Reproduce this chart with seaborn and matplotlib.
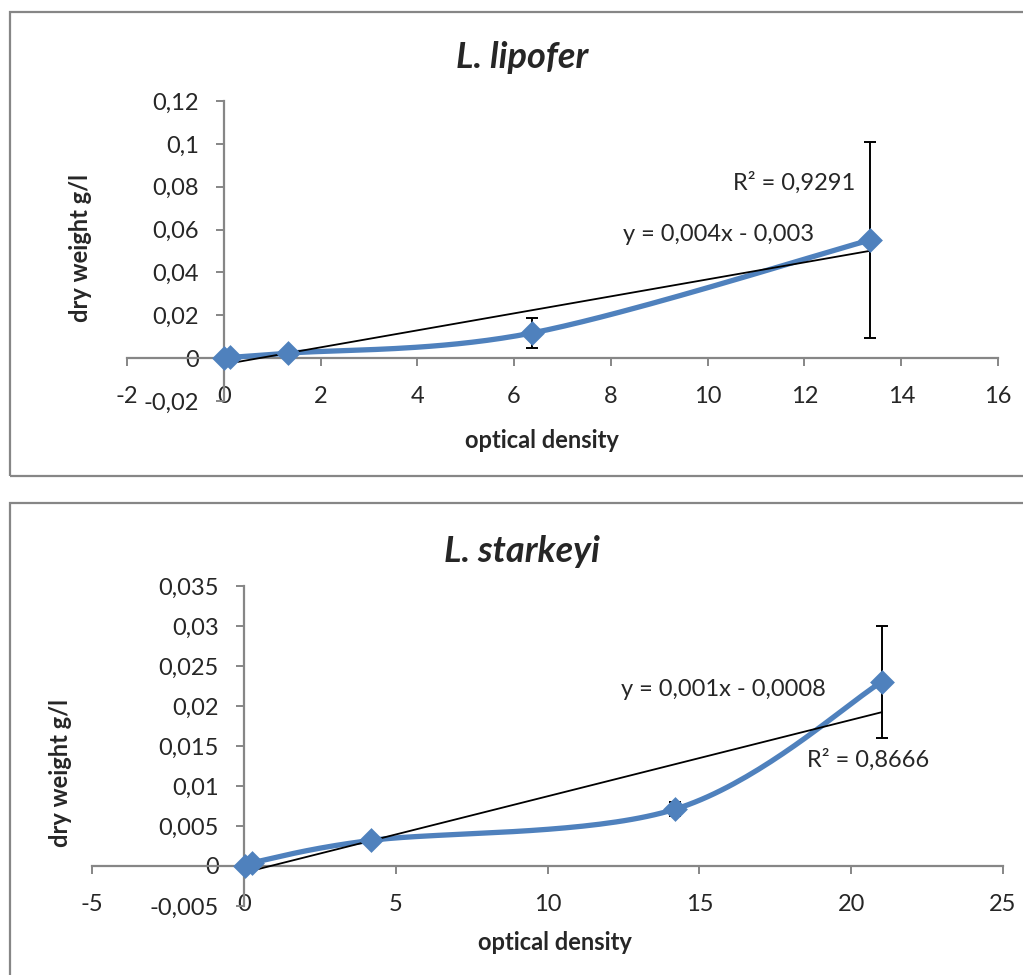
import numpy as np
import pandas as pd
import matplotlib
matplotlib.use("Agg")
import matplotlib.pyplot as plt
import seaborn as sns
from matplotlib.patches import Rectangle
from matplotlib.ticker import FuncFormatter, MultipleLocator

# ---- data ----
lip_od = [0.0, 0.12, 1.32, 6.36, 13.35]
lip_dw = [0.0, 0.0003, 0.0023, 0.0117, 0.0551]
lip_err = [0.0, 0.0, 0.0, 0.007, 0.0458]

sta_od = [0.03, 0.26, 4.18, 14.2, 21.0]
sta_dw = [0.0, 0.0004, 0.0032, 0.0071, 0.0230]
sta_err = [0.0, 0.0, 0.0, 0.0009, 0.007]

titles = ["L. lipofer", "L. starkeyi"]
eq_texts = ["y = 0,004x - 0,003", "y = 0,001x - 0,0008"]
r2_texts = ["R² = 0,9291", "R² = 0,8666"]

BLUE = "#4F81BD"
GRAY = "#868686"
FONT = "Lato"
TS = 17  # text size

sns.set_theme(style="white")
plt.rcParams['font.family'] = [FONT, 'DejaVu Sans']

fig = plt.figure(figsize=(10.23, 9.75), dpi=100)

# panel frames
for (y0, y1) in [(12, 476), (503, 990)]:
    fig.patches.append(Rectangle((10 / 1023, 1 - y1 / 975), 1.1, (y1 - y0) / 975,
                                 transform=fig.transFigure, fill=False,
                                 edgecolor=GRAY, linewidth=1.6, clip_on=True))


def smooth(xs, ys, xr, yr, n=40):
    P = np.column_stack([np.array(xs) / xr, np.array(ys) / yr])
    out = []
    m = len(P)
    for i in range(m - 1):
        p0 = P[max(i - 1, 0)]
        p1 = P[i]
        p2 = P[i + 1]
        p3 = P[min(i + 2, m - 1)]
        seg = np.linalg.norm(p2 - p1)
        t1 = (p2 - p0) / 6.0
        t2 = (p3 - p1) / 6.0
        n1 = np.linalg.norm(t1)
        n2 = np.linalg.norm(t2)
        if n1 > seg / 2 and n1 > 0:
            t1 = t1 * (seg / 2) / n1
        if n2 > seg / 2 and n2 > 0:
            t2 = t2 * (seg / 2) / n2
        c1 = p1 + t1
        c2 = p2 - t2
        t = np.linspace(0, 1, n)[:, None]
        b = ((1 - t) ** 3) * p1 + 3 * ((1 - t) ** 2) * t * c1 + 3 * (1 - t) * t ** 2 * c2 + t ** 3 * p2
        out.append(b if i == 0 else b[1:])
    B = np.vstack(out)
    return B[:, 0] * xr, B[:, 1] * yr


def comma(dec):
    def f(v, pos):
        s = f"{v:.{dec}f}".rstrip("0").rstrip(".") if dec > 0 else f"{v:.0f}"
        if s in ("-0", ""):
            s = "0"
        return s.replace(".", ",")
    return f


panels = [
    dict(rect=[127 / 1023, 1 - 401 / 975, (998 - 127) / 1023, 300 / 975],
         x=lip_od, y=lip_dw, e=lip_err, xlim=(-2, 16), ylim=(-0.02, 0.12),
         xstep=2, ystep=0.02, ydec=2,
         eq=(8.24, 0.0575), r2=(10.52, 0.0818)),
    dict(rect=[92 / 1023, 1 - 906 / 975, (1003 - 92) / 1023, 320 / 975],
         x=sta_od, y=sta_dw, e=sta_err, xlim=(-5, 25), ylim=(-0.005, 0.035),
         xstep=5, ystep=0.005, ydec=3,
         eq=(12.41, 0.0221), r2=(18.54, 0.01325)),
]

for k, p in enumerate(panels):
    ax = fig.add_axes(p["rect"])
    ax.set_xlim(*p["xlim"])
    ax.set_ylim(*p["ylim"])
    df = pd.DataFrame({"od": p["x"], "dw": p["y"]})

    # error bars
    xe = [xv for xv, ev in zip(p["x"], p["e"]) if ev > 0]
    ye = [yv for yv, ev in zip(p["y"], p["e"]) if ev > 0]
    ee = [ev for ev in p["e"] if ev > 0]
    ax.errorbar(xe, ye, yerr=ee, fmt="none", ecolor="black", elinewidth=1.4,
                capsize=4, capthick=1.4, zorder=2)

    # linear trend
    slope, icpt = np.polyfit(p["x"], p["y"], 1)
    tx = np.array([min(p["x"]), max(p["x"])])
    sns.lineplot(x=tx, y=slope * tx + icpt, ax=ax, color="black", linewidth=1.3,
                 zorder=4, sort=False)

    # smoothed series
    xr = p["xlim"][1] - p["xlim"][0]
    yr = p["ylim"][1] - p["ylim"][0]
    sx, sy = smooth(p["x"], p["y"], xr, yr)
    sns.lineplot(x=sx, y=sy, ax=ax, color=BLUE, linewidth=3.8, sort=False,
                 zorder=3, estimator=None)
    sns.scatterplot(data=df, x="od", y="dw", ax=ax, marker="D", s=160,
                    color=BLUE, edgecolor=BLUE, linewidth=0, zorder=5)

    # spines
    for s in ("top", "right"):
        ax.spines[s].set_visible(False)
    ax.spines["left"].set_position(("data", 0))
    ax.spines["bottom"].set_position(("data", 0))
    for s in ("left", "bottom"):
        ax.spines[s].set_color(GRAY)
        ax.spines[s].set_linewidth(1.6)
    ax.xaxis.set_major_locator(MultipleLocator(p["xstep"]))
    ax.yaxis.set_major_locator(MultipleLocator(p["ystep"]))
    ax.xaxis.set_major_formatter(FuncFormatter(comma(0)))
    ax.yaxis.set_major_formatter(FuncFormatter(comma(p["ydec"])))
    ax.tick_params(axis="x", direction="out", length=6, width=1.4, color=GRAY,
                   labelsize=TS, pad=14, bottom=True)
    ax.tick_params(axis="y", direction="out", length=6, width=1.4, color=GRAY,
                   labelsize=TS, pad=12, left=True)
    ax.set_xlabel("")
    ax.set_ylabel("")
    ax.grid(False)
    ax.patch.set_alpha(0)

    ax.text(p["eq"][0], p["eq"][1], eq_texts[k], fontsize=TS, va="center", ha="left")
    ax.text(p["r2"][0], p["r2"][1], r2_texts[k], fontsize=TS, va="center", ha="left")

# titles and axis labels (figure coords)
fig.text(522 / 1023, 1 - 58 / 975, titles[0], fontsize=26, fontweight="bold",
         fontstyle="italic", ha="center", va="center")
fig.text(522 / 1023, 1 - 552 / 975, titles[1], fontsize=26, fontweight="bold",
         fontstyle="italic", ha="center", va="center")
fig.text(542 / 1023, 1 - 441 / 975, "optical density", fontsize=TS, fontweight="bold",
         ha="center", va="center")
fig.text(555 / 1023, 1 - 942 / 975, "optical density", fontsize=TS, fontweight="bold",
         ha="center", va="center")
fig.text(80 / 1023, 1 - 248 / 975, "dry weight g/l", fontsize=TS, fontweight="bold",
         ha="center", va="center", rotation=90)
fig.text(60 / 1023, 1 - 773 / 975, "dry weight g/l", fontsize=TS, fontweight="bold",
         ha="center", va="center", rotation=90)

fig.savefig("out.png", dpi=100)
